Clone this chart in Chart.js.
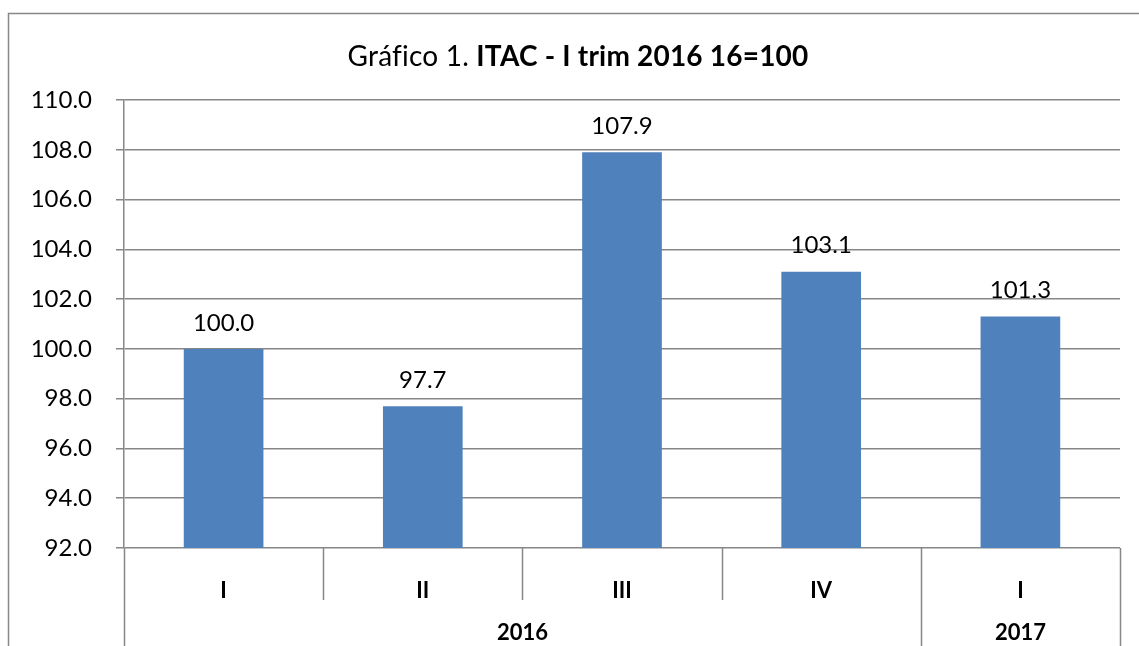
<!DOCTYPE html>
<html>
<head>
<meta charset="utf-8">
<script src="https://cdn.jsdelivr.net/npm/chart.js@4/dist/chart.umd.min.js"></script>
<style>
  html, body { margin: 0; padding: 0; background: #fff; }
  canvas { display: block; }
</style>
</head>
<body>
<canvas id="c" width="1139" height="646"></canvas>
<script>
// ---- data ----
const categories = ['I', 'II', 'III', 'IV', 'I'];
const years = ['2016', '2016', '2016', '2016', '2017'];
const values = [100.0, 97.7, 107.9, 103.1, 101.3];
const yMin = 92;
const yMax = 110;
const yStep = 2;
const titleNormal = 'Gráfico 1.';
const titleBold = 'ITAC - I trim 2016 16=100';

// ---- style ----
const FONT = 'Lato, "Open Sans", sans-serif';
const GRID = '#878787';
const BAR = '#4F81BD';

const decorPlugin = {
  id: 'decor',
  beforeDraw(chart) {
    const ctx = chart.ctx;
    ctx.save();
    ctx.fillStyle = '#fff';
    ctx.fillRect(0, 0, chart.width, chart.height);
    ctx.strokeStyle = GRID;
    ctx.lineWidth = 1.5;
    ctx.beginPath();
    ctx.moveTo(8.5, chart.height + 2);
    ctx.lineTo(8.5, 13.5);
    ctx.lineTo(chart.width + 2, 13.5);
    ctx.stroke();
    ctx.restore();
  },
  afterDraw(chart) {
    const ctx = chart.ctx;
    const x = chart.scales.x;
    const area = chart.chartArea;
    ctx.save();
    // title
    ctx.fillStyle = '#000';
    ctx.textBaseline = 'middle';
    ctx.textAlign = 'left';
    if ('letterSpacing' in ctx) ctx.letterSpacing = '0.2px';
    const fN = '28px ' + FONT;
    const fB = 'bold 28px ' + FONT;
    ctx.font = fN;
    const w1 = ctx.measureText(titleNormal + ' ').width;
    ctx.font = fB;
    const w2 = ctx.measureText(titleBold).width;
    let tx = 578 - (w1 + w2) / 2;
    ctx.font = fN;
    ctx.fillText(titleNormal + ' ', tx, 57);
    ctx.font = fB;
    ctx.fillText(titleBold, tx + w1, 57);
    if ('letterSpacing' in ctx) ctx.letterSpacing = '0px';

    // data labels
    ctx.font = '24px ' + FONT;
    ctx.textAlign = 'center';
    const meta = chart.getDatasetMeta(0);
    meta.data.forEach((bar, i) => {
      ctx.fillText(values[i].toFixed(1), bar.x, bar.y - 26);
    });

    // category separators and year groups
    ctx.strokeStyle = GRID;
    ctx.lineWidth = 1.5;
    const base = area.bottom;
    const groups = [];
    years.forEach((y, i) => {
      if (!groups.length || groups[groups.length - 1].year !== y) groups.push({ year: y, start: i, end: i });
      else groups[groups.length - 1].end = i;
    });
    const groupEdges = new Set();
    groups.forEach(g => { groupEdges.add(g.start); groupEdges.add(g.end + 1); });
    for (let i = 0; i <= categories.length; i++) {
      const px = Math.round(x.getPixelForValue(i - 0.5)) + 0.5;
      ctx.beginPath();
      ctx.moveTo(px, base);
      ctx.lineTo(px, groupEdges.has(i) ? chart.height + 2 : base + 52);
      ctx.stroke();
    }
    ctx.font = 'bold 22px ' + FONT;
    groups.forEach(g => {
      const l = x.getPixelForValue(g.start - 0.5);
      const r = x.getPixelForValue(g.end + 0.5);
      ctx.fillText(g.year, (l + r) / 2, 633);
    });
    ctx.restore();
  }
};

new Chart(document.getElementById('c'), {
  type: 'bar',
  data: {
    labels: categories,
    datasets: [{
      data: values,
      backgroundColor: BAR,
      borderWidth: 0,
      categoryPercentage: 1.0,
      barPercentage: 0.4
    }]
  },
  options: {
    responsive: false,
    animation: false,
    devicePixelRatio: 1,
    layout: { padding: { top: 100, right: 19, bottom: 0, left: 0 } },
    plugins: { legend: { display: false }, title: { display: false }, tooltip: { enabled: false } },
    scales: {
      x: {
        type: 'category',
        offset: true,
        grid: { display: false },
        border: { display: false },
        ticks: { color: '#000', font: { family: FONT, size: 22, weight: 'bold' }, padding: 22, maxRotation: 0 },
        afterFit(s) { s.height = 98; }
      },
      y: {
        min: yMin,
        max: yMax,
        ticks: {
          stepSize: yStep,
          color: '#000',
          font: { family: FONT, size: 24 },
          padding: 24,
          callback: v => Number(v).toFixed(1)
        },
        grid: { color: GRID, lineWidth: 1.5, tickLength: 8 },
        border: { display: true, color: GRID, width: 1.5 },
        afterFit(s) { s.width = 124; }
      }
    }
  },
  plugins: [decorPlugin]
});
</script>
</body>
</html>
